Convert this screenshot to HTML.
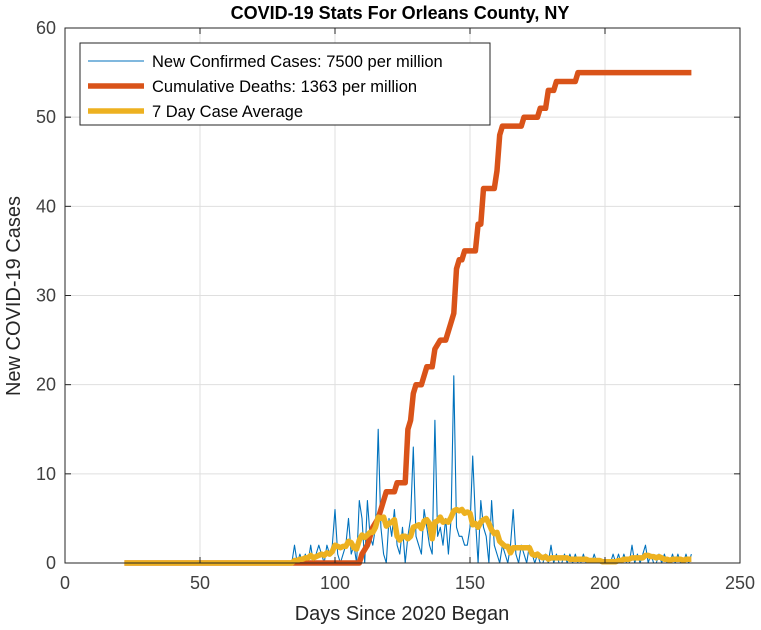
<!DOCTYPE html>
<html><head><meta charset="utf-8"><style>
html,body{margin:0;padding:0;background:#fff;}
svg{display:block;font-family:"Liberation Sans",Arial,sans-serif;}
</style></head><body>
<svg id="chart" width="761" height="630"></svg>
<script>
const xTicks=[0,50,100,150,200,250];
const yTicks=[0,10,20,30,40,50,60];
const caseStartDay=22;
const earlyZeros=62;
const laterCases=[0,2,0,1,0,1,0,2,0,1,2,1,0,2,1,2,6,1,0,1,2,5,1,2,0,7,5,0,7,3,2,4,15,4,1,0,5,3,6,2,1,4,0,3,5,13,3,2,1,6,4,2,1,16,3,4,2,5,1,5,21,4,3,3,2,2,4,12,5,0,7,4,3,0,7,2,1,0,2,1,0,2,6,1,0,2,1,0,2,1,0,1,0,0,1,0,2,0,1,0,0,1,0,1,0,1,0,0,1,0,0,0,1,0,0,0,0,0,0,1,0,1,0,1,0,0,2,0,1,0,1,2,0,1,0,0,1,0,1,0,0,1,0,1,0,0,1,0,1];
const dailyCases=new Array(earlyZeros).fill(0).concat(laterCases);
const deathDays=[22,109,110,112,113,114,116,117,118,119,122,123,126,127,128,129,130,132,134,136,137,139,141,142,143,144,145,146,147,148,152,153,154,155,159,160,161,162,169,170,175,176,178,179,181,182,189,190,232];
const deathValues=[0,0,1,2,3,4,5,6,7,8,8,9,9,15,16,19,20,20,22,22,24,25,25,26,27,28,33,34,34,35,35,38,38,42,42,44,48,49,49,50,50,51,51,53,53,54,54,55,55];

const L=65,R=740,T=28,B=563;
const sx=d=>L+(d-0)/(250-0)*(R-L);
const sy=v=>B-(v-0)/(60-0)*(B-T);
const NS="http://www.w3.org/2000/svg";
const svg=document.getElementById('chart');
function mk(tag,attrs,parent){const e=document.createElementNS(NS,tag);for(const k in attrs)e.setAttribute(k,attrs[k]);(parent||svg).appendChild(e);return e;}

xTicks.forEach(t=>{const g=mk('line',{x1:sx(t),x2:sx(t),y1:T,y2:B,stroke:'#dfdfdf','stroke-width':1});

});
yTicks.forEach(t=>{const g=mk('line',{x1:L,x2:R,y1:sy(t),y2:sy(t),stroke:'#dfdfdf','stroke-width':1});

});

const casePts=dailyCases.map((v,i)=>sx(caseStartDay+i).toFixed(1)+','+sy(v).toFixed(1)).join(' ');
const avg=dailyCases.map((v,i)=>{let s=0,n=0;for(let k=Math.max(0,i-6);k<=i;k++){s+=dailyCases[k];n++;}return s/n;});
const avgPts=avg.map((v,i)=>sx(caseStartDay+i).toFixed(1)+','+sy(v).toFixed(1)).join(' ');
const deathPts=deathDays.map((d,i)=>sx(d).toFixed(1)+','+sy(deathValues[i]).toFixed(1)).join(' ');
const cl=mk('polyline',{points:casePts,fill:'none',stroke:'#0072BD','stroke-width':1.1,'stroke-linejoin':'round'});


const dl=mk('polyline',{points:deathPts,fill:'none',stroke:'#D95319','stroke-width':5.5,'stroke-linejoin':'round'});


const al=mk('polyline',{points:avgPts,fill:'none',stroke:'#EDB120','stroke-width':5.5,'stroke-linejoin':'round'});



const ax=mk('path',{d:`M${L},${T}H${R}V${B}H${L}Z`,fill:'none',stroke:'#262626','stroke-width':1});


xTicks.forEach(t=>{mk('line',{x1:sx(t),x2:sx(t),y1:B,y2:B-6,stroke:'#262626'});mk('line',{x1:sx(t),x2:sx(t),y1:T,y2:T+6,stroke:'#262626'});
const tx=mk('text',{x:sx(t),y:B+26,'text-anchor':'middle','font-size':18,fill:'#404040'});tx.textContent=t;

});
yTicks.forEach(t=>{mk('line',{x1:L,x2:L+6,y1:sy(t),y2:sy(t),stroke:'#262626'});mk('line',{x1:R,x2:R-6,y1:sy(t),y2:sy(t),stroke:'#262626'});
const tx=mk('text',{x:L-9,y:sy(t)+6,'text-anchor':'end','font-size':18,fill:'#404040'});tx.textContent=t;

});
</script>
<svg width="761" height="630" style="position:absolute;left:0;top:0">
<text x="400" y="19" text-anchor="middle" font-size="18" font-weight="bold" fill="#000">COVID-19 Stats For Orleans County, NY</text>
<text x="402" y="620" text-anchor="middle" font-size="20" fill="#262626">Days Since 2020 Began</text>
<text transform="translate(20,296) rotate(-90)" text-anchor="middle" font-size="20" fill="#262626">New COVID-19 Cases</text>
<g>
<rect x="80" y="43" width="410" height="82" fill="#fff" stroke="#262626" stroke-width="1"/>
<g><line x1="88" x2="144" y1="61" y2="61" stroke="#0072BD" stroke-width="1.1"/><text x="152" y="67" font-size="16.5" fill="#000">New Confirmed Cases: 7500 per million</text></g>
<g><line x1="88" x2="144" y1="86" y2="86" stroke="#D95319" stroke-width="5.5"/><text x="152" y="92" font-size="16.5" fill="#000">Cumulative Deaths: 1363 per million</text></g>
<g><line x1="88" x2="144" y1="111" y2="111" stroke="#EDB120" stroke-width="5.5"/><text x="152" y="117" font-size="16.5" fill="#000">7 Day Case Average</text></g>
</g>
</svg>
</body></html>
